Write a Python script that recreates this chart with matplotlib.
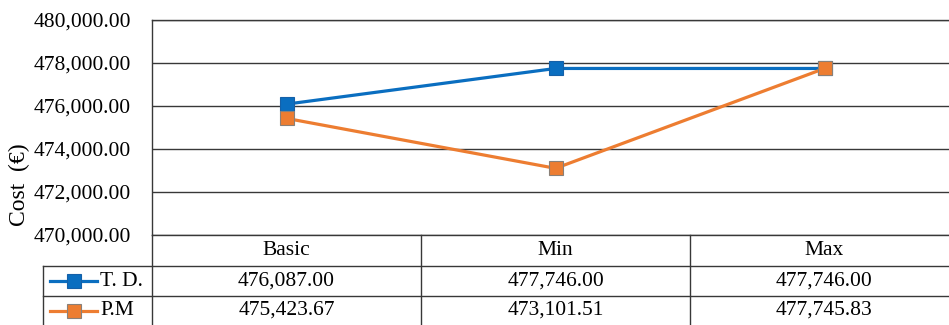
import numpy as np
import matplotlib
matplotlib.use('Agg')
import matplotlib.pyplot as plt

plt.rcParams['font.family'] = ['Liberation Serif', 'DejaVu Serif']

categories = ['Basic', 'Min', 'Max']
series_names = ['T. D.', 'P.M']
td_cost = [476087.00, 477746.00, 477746.00]
pm_cost = [475423.67, 473101.51, 477745.83]
yticks = [470000, 472000, 474000, 476000, 478000, 480000]

colors = ['#0A6EC0', '#ED7D31']
edges = ['#1560A8', '#8A8078']
grid_c = '#383838'

W, H = 949, 325
fig = plt.figure(figsize=(W / 100, H / 100), dpi=100)

def px(x0, y0, x1, y1):
    # pixel box (top-left origin) -> figure fraction rect
    return [x0 / W, 1 - y1 / H, (x1 - x0) / W, (y1 - y0) / H]

# main plot area
ax = fig.add_axes(px(152, 20, W, 235))
col_w = 269.0
xs = np.arange(len(categories))
ax.set_xlim(-0.5, -0.5 + (W - 152) / col_w)
ax.set_ylim(yticks[0], yticks[-1])
ax.set_yticks(yticks)
ax.set_yticklabels(['{:,.2f}'.format(v) for v in yticks], fontsize=15.5)
ax.tick_params(axis='y', length=0, pad=15)
ax.set_xticks([])
for s in ['right', 'bottom']:
    ax.spines[s].set_visible(False)
ax.spines['left'].set_color(grid_c)
ax.spines['top'].set_color(grid_c)
ax.spines['left'].set_linewidth(1.0)
ax.spines['top'].set_linewidth(1.0)
ax.yaxis.grid(True, color=grid_c, linewidth=1.0)
ax.set_axisbelow(True)

for vals, c, ec, name in zip([td_cost, pm_cost], colors, edges, series_names):
    ax.plot(xs, vals, color=c, lw=2.3, marker='s', ms=9.5,
            mfc=c, mec=ec, mew=0.8, label=name, zorder=3)

fig.text(19 / W, 1 - 185 / H, 'Cost  (€)', rotation=90, fontsize=17,
         ha='center', va='center')

# data table below the plot
tax = fig.add_axes(px(0, 235, W, H))
left_data = -0.5 - 152 / col_w
tax.set_xlim(left_data, left_data + W / col_w)
tax.set_ylim(2.95, 0)
tax.axis('off')
row_y = [0, 1.03, 2.0, 2.95]
lab_left = -0.5 - (152 - 43) / col_w
lk = dict(color=grid_c, lw=1.0, clip_on=False)
# vertical lines
tax.plot([-0.5, -0.5], [0, 2.95], **lk)
for b in [0.5, 1.5]:
    tax.plot([b, b], [0, 2.95], **lk)
tax.plot([lab_left, lab_left], [row_y[1], 2.95], **lk)
# horizontal lines
tax.plot([-0.5, 3], [0, 0], **lk)
for r in row_y[1:3]:
    tax.plot([lab_left, 3], [r, r], **lk)

for i, cat in enumerate(categories):
    tax.text(xs[i], (row_y[0] + row_y[1]) / 2, cat, ha='center', va='center', fontsize=15.5)

for j, (vals, c, ec, name) in enumerate(zip([td_cost, pm_cost], colors, edges, series_names)):
    yc = (row_y[j + 1] + row_y[j + 2]) / 2
    x0 = lab_left + 7 / col_w
    x1 = lab_left + 54 / col_w
    tax.plot([x0, x1], [yc, yc], color=c, lw=2.3, clip_on=False)
    tax.plot([(x0 + x1) / 2], [yc], marker='s', ms=9.5, color=c, mec=ec, mew=0.8, clip_on=False)
    tax.text(lab_left + 57 / col_w, yc, name, ha='left', va='center', fontsize=15.5)
    for i, v in enumerate(vals):
        tax.text(xs[i], yc, '{:,.2f}'.format(v), ha='center', va='center', fontsize=15.5)

fig.savefig('out.png', dpi=100)
